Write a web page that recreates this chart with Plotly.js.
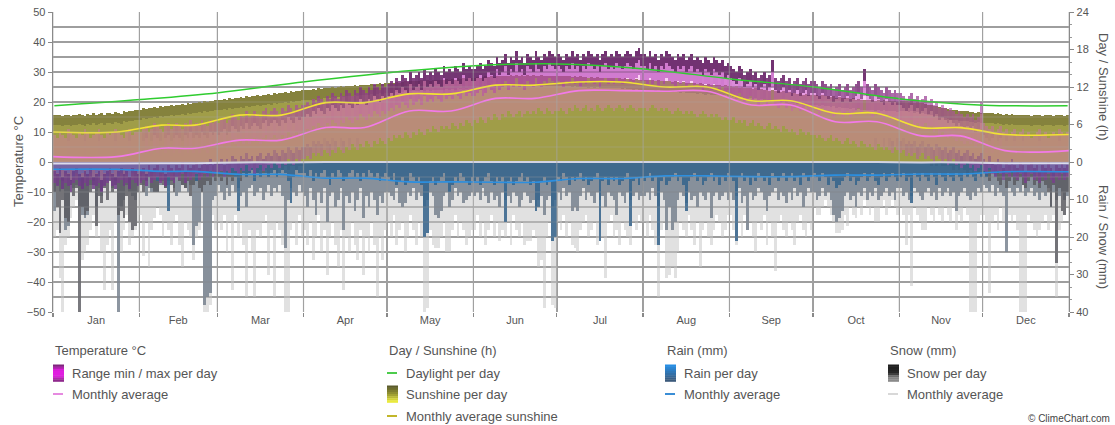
<!DOCTYPE html>
<html><head><meta charset="utf-8">
<script src="https://cdn.plot.ly/plotly-3.0.1.min.js"></script>
<style>html,body{margin:0;padding:0;background:#fff;}#chart{width:1115px;height:425px;}</style>
</head><body><div id="chart"></div>
<script>
const months = ['Jan','Feb','Mar','Apr','May','Jun','Jul','Aug','Sep','Oct','Nov','Dec'];
const monthDays = [31,28,31,30,31,30,31,31,30,31,30,31];

// Daily sunshine (h) – top of the sunshine bars
const sunshine = [
7.6,7.5,7.6,7.4,7.6,7.5,7.3,7.6,7.5,7.7,7.6,7.4,7.7,7.6,7.8,7.5,7.7,7.8,7.6,7.9,7.8,7.7,8.0,7.9,7.7,8.1,8.0,8.2,8.1,8.3,8.4,
8.4,8.6,8.5,8.7,8.6,8.8,8.7,8.9,8.8,9.0,8.9,9.1,9.0,9.2,9.1,9.3,9.2,9.4,9.3,9.5,9.4,9.6,9.5,9.7,9.6,9.8,9.7,9.9,
9.9,10.0,10.1,10.0,10.2,10.1,10.3,10.2,10.4,10.3,10.5,10.4,10.6,10.5,10.7,10.6,10.8,10.7,10.9,10.8,11.0,10.9,11.1,11.0,11.2,11.1,11.3,11.2,11.4,11.3,11.5,
11.5,11.6,11.5,11.7,11.6,11.8,11.7,11.8,11.9,11.8,12.0,11.9,12.0,12.1,12.0,12.2,12.1,12.2,12.3,12.2,12.3,12.4,12.3,12.4,12.5,12.4,12.5,12.6,12.5,12.6,
12.6,12.7,12.6,12.8,12.7,12.8,12.9,12.8,12.9,13.0,12.9,13.0,13.1,13.0,13.1,13.0,13.2,13.1,13.2,13.1,13.2,13.3,13.2,13.3,13.2,13.4,13.3,13.4,13.3,13.4,13.5,
13.5,13.6,13.5,13.6,13.7,13.6,13.7,13.6,13.8,13.7,13.8,13.7,13.8,13.9,13.8,13.9,13.8,13.9,13.8,13.9,13.8,13.9,13.8,13.8,13.9,13.8,13.8,13.7,13.8,13.7,
13.8,13.7,13.8,13.7,13.7,13.6,13.7,13.6,13.7,13.6,13.6,13.5,13.6,13.5,13.6,13.5,13.5,13.4,13.5,13.4,13.5,13.4,13.4,13.3,13.4,13.3,13.3,13.2,13.3,13.2,13.2,
13.2,13.1,13.2,13.1,13.0,13.1,13.0,12.9,13.0,12.9,12.8,12.9,12.8,12.7,12.8,12.7,12.6,12.7,12.6,12.5,12.6,12.5,12.4,12.5,12.4,12.3,12.4,12.3,12.2,12.3,12.1,
12.1,12.0,12.1,11.9,12.0,11.9,11.8,11.9,11.7,11.8,11.6,11.7,11.5,11.6,11.4,11.5,11.3,11.4,11.2,11.3,11.1,11.2,11.0,11.1,10.9,11.0,10.8,10.9,10.7,10.8,
10.7,10.8,10.6,10.7,10.5,10.6,10.4,10.5,10.3,10.4,10.2,10.3,10.2,10.1,10.2,10.0,10.1,10.0,9.9,10.0,9.9,10.0,9.8,9.9,9.8,9.9,9.7,9.8,9.7,9.8,9.6,
9.8,9.7,9.8,9.6,9.7,9.5,9.6,9.4,9.5,9.3,9.2,9.1,9.0,8.9,8.8,8.7,8.6,8.5,8.4,8.3,8.3,8.2,8.2,8.1,8.1,8.0,8.0,7.9,8.0,7.9,
7.9,7.8,7.9,7.8,7.7,7.8,7.7,7.6,7.7,7.6,7.7,7.6,7.5,7.6,7.5,7.6,7.5,7.4,7.5,7.6,7.5,7.4,7.5,7.6,7.5,7.4,7.5,7.6,7.5,7.4,7.5
];

// Daily temperature max / min (°C)
const tempMax = [
9,8,10,9,8,11,10,9,8,10,9,11,10,8,9,10,11,9,8,10,9,10,11,10,9,8,10,11,9,10,10,
10,11,12,10,11,13,12,11,10,12,13,11,12,13,12,11,13,12,14,12,13,12,14,13,12,14,13,14,
13,14,15,13,14,16,15,14,16,15,17,15,16,17,16,15,17,18,16,17,18,17,16,18,17,19,18,17,19,18,19,
19,20,19,21,20,22,21,20,22,21,23,22,21,23,22,24,23,22,24,23,25,24,23,25,24,26,25,24,26,25,
26,27,26,28,27,29,28,27,30,28,29,30,28,31,29,30,29,31,30,29,32,30,31,30,32,31,30,33,31,32,31,
31,32,33,31,32,34,33,32,35,33,34,36,33,35,34,37,34,35,33,36,35,34,37,35,34,36,35,37,36,35,
36,35,34,36,35,37,35,36,34,36,35,37,36,35,36,34,36,37,35,36,35,37,36,35,36,37,36,35,37,38,36,
36,35,37,35,36,34,36,35,37,36,35,34,36,35,36,34,35,36,34,35,34,33,35,34,33,35,34,33,34,32,33,
32,31,30,32,31,29,30,31,29,30,28,29,30,28,29,34,28,27,28,29,27,28,26,27,28,26,27,28,26,27,
27,26,25,27,26,25,26,24,25,26,24,25,26,24,25,26,27,25,31,26,25,24,26,25,24,23,25,24,23,24,23,
23,22,21,22,23,21,22,20,21,22,20,21,19,20,18,19,18,17,18,17,16,17,16,15,16,15,16,14,15,20,
13,12,11,12,10,11,12,10,11,9,10,11,9,10,11,9,10,8,9,10,11,9,10,8,9,10,9,11,10,9,10
];
const tempMin = [
-7,-8,-6,-9,-7,-8,-10,-7,-6,-8,-9,-7,-8,-6,-9,-8,-7,-10,-8,-7,-6,-8,-9,-7,-6,-8,-7,-9,-6,-7,-8,
-7,-6,-8,-5,-7,-6,-5,-7,-6,-8,-5,-6,-7,-5,-6,-4,-7,-5,-6,-5,-4,-6,-5,-4,-5,-3,-5,-4,
-4,-3,-5,-3,-4,-2,-3,-4,-2,-3,-1,-3,-2,-4,-2,-1,-3,-2,-1,-2,0,-1,-2,0,-1,1,0,-1,1,0,1,
1,2,1,3,2,3,2,4,3,2,4,3,5,4,3,5,4,6,5,4,6,5,7,6,5,7,6,8,7,6,
8,7,9,8,9,8,10,9,8,10,9,11,10,9,11,10,12,11,10,12,11,12,11,13,12,11,13,12,14,13,12,
14,13,15,14,13,15,14,16,15,14,16,15,17,16,15,16,17,15,16,17,16,17,16,18,17,16,18,17,16,17,
17,18,17,16,18,17,19,18,17,18,19,17,18,17,19,18,17,18,19,18,17,18,19,18,17,18,19,18,17,18,18,
18,17,18,19,18,17,18,17,18,17,16,17,18,17,16,17,16,17,16,15,16,17,16,15,16,15,16,15,14,15,14,
14,15,13,14,13,14,12,13,14,12,13,12,11,12,13,11,12,11,10,12,11,10,11,10,9,11,10,9,10,9,
9,8,9,8,7,8,9,7,8,7,6,7,8,6,7,6,5,7,6,5,6,5,4,6,5,4,5,4,3,5,4,
3,4,2,3,2,3,1,2,3,1,2,1,0,2,1,0,1,-1,0,1,-1,0,-2,-1,0,-2,-1,-3,-2,-1,
-3,-4,-2,-4,-5,-3,-4,-6,-4,-5,-3,-5,-6,-4,-5,-7,-5,-4,-6,-5,-7,-5,-6,-4,-6,-7,-5,-6,-4,-6,-5
];

// Daily rain (mm): dense core, higher values, extremes
const rainCore = [
2,3,4,2,3,3,2,4,3,5,3,2,4,3,2,3,4,2,3,5,2,3,2,4,3,2,3,4,3,2,3,
2,3,2,4,3,3,5,2,3,4,13,3,2,4,3,2,3,4,2,3,5,3,2,3,4,3,2,3,
3,2,4,3,2,3,4,13,2,3,4,3,2,5,3,4,2,3,4,3,2,4,3,2,3,5,11,4,2,3,3,
3,4,2,5,3,4,3,2,4,6,3,4,2,3,5,4,3,2,4,3,5,3,4,2,3,4,3,5,4,3,
4,5,3,6,5,4,6,5,3,4,5,4,6,20,19,5,4,6,5,4,3,5,8,6,4,5,3,4,5,6,4,
5,4,6,5,4,3,5,6,4,5,4,16,5,4,6,5,4,3,5,4,6,5,13,12,5,4,6,5,21,20,
4,5,3,4,6,4,5,4,3,5,4,6,5,4,3,21,5,4,6,4,5,4,6,5,4,3,17,5,4,6,4,
5,4,3,5,4,22,5,4,6,5,4,3,5,4,6,13,5,4,3,5,4,6,5,4,3,5,4,6,4,5,3,
4,5,21,4,3,5,4,6,4,5,3,4,5,4,6,3,4,5,4,3,5,4,3,5,4,6,3,4,5,4,
3,4,5,3,4,6,4,5,7,6,5,4,3,5,4,6,5,4,3,5,4,3,5,6,4,3,5,4,3,4,5,
4,3,5,4,11,3,4,5,3,4,5,3,4,6,3,4,5,3,4,5,3,4,5,3,4,3,4,5,3,4,
3,4,2,3,4,3,2,4,3,2,3,4,2,3,4,3,2,3,4,2,3,4,3,2,3,4,3,2,3,4,3
];
const rainHigh = [
13,6,8,5,18,17,5,7,6,12,14,15,14,6,5,12,7,9,6,5,4,7,5,40,12,10,6,8,9,10,6,
5,6,9,7,8,8,8,6,5,7,6,5,7,9,8,6,7,8,6,22,17,16,8,38,36,35,10,9,
6,8,10,7,9,6,8,7,9,8,12,7,6,9,8,7,10,8,6,9,7,8,6,9,23,10,7,8,9,6,8,
9,12,7,10,14,8,11,7,16,9,8,12,10,7,18,9,11,8,13,10,7,15,9,12,8,10,14,9,11,8,
8,9,10,7,11,12,11,8,9,7,10,8,9,12,10,8,9,14,15,13,9,8,12,10,7,9,8,11,10,9,8,
9,8,10,7,9,11,8,10,9,12,8,10,9,11,8,9,12,10,8,9,11,10,12,10,9,14,10,9,12,10,
8,10,7,9,8,13,12,13,9,7,10,8,9,11,8,10,9,12,8,9,10,14,8,9,11,8,10,9,8,10,9,
9,8,10,7,9,12,8,10,18,12,18,16,10,8,9,11,8,10,9,12,8,9,10,8,15,9,8,10,9,8,10,
8,10,9,7,11,9,18,8,10,9,7,8,10,13,9,8,7,10,8,9,11,8,10,7,9,8,12,9,7,8,
8,10,9,7,9,8,10,14,16,15,13,9,8,10,9,12,8,9,7,10,8,9,7,10,9,8,7,9,8,10,7,
7,9,8,10,9,7,8,9,10,8,7,9,8,10,7,9,8,7,9,8,13,9,8,7,9,10,8,9,7,8,
6,7,8,6,9,7,8,9,24,7,8,9,7,8,6,9,8,7,9,8,10,8,9,7,12,8,10,9,8,10,9
];
const rainExtreme = [
20,18,31,40,22,20,15,12,10,16,26,24,22,18,14,20,16,24,34,22,18,34,16,28,24,18,14,22,20,18,16,
14,25,16,28,18,15,12,14,20,16,18,22,16,14,22,28,16,18,20,26,20,18,16,40,40,38,14,18,
16,18,14,24,16,34,14,20,16,22,36,18,24,36,18,20,16,14,30,18,36,16,18,22,40,40,18,16,22,14,20,
18,22,16,26,20,14,24,18,30,20,16,22,28,18,34,20,24,16,22,26,18,30,20,24,16,22,36,20,26,18,
16,20,14,22,18,16,24,20,14,18,22,16,20,40,39,18,22,23,23,20,16,24,24,18,14,20,16,18,22,20,18,
18,14,20,16,22,18,14,20,16,21,18,20,16,22,14,18,20,16,22,21,21,18,20,28,26,39,20,16,38,39,
16,18,14,20,16,22,23,24,18,16,14,20,18,16,22,18,20,31,16,14,20,18,22,16,18,20,22,16,18,14,16,
16,20,14,18,22,36,18,16,31,30,28,31,24,16,18,20,14,18,22,16,28,18,16,20,22,18,14,16,20,18,14,
14,18,22,16,20,14,18,16,20,24,16,18,14,22,16,20,29,16,14,18,20,16,18,22,16,14,18,20,16,18,
12,14,14,12,10,12,14,16,19,19,18,14,17,12,14,15,12,14,10,12,14,12,16,16,12,10,14,12,10,12,14,
12,14,22,14,33,12,14,16,18,18,12,14,16,12,14,16,12,14,16,12,18,14,16,12,14,40,40,40,16,14,
14,16,35,16,14,18,12,16,20,14,16,14,18,40,40,40,14,16,18,20,18,16,14,18,16,14,36,18,16,14,12
];
// Daily snow (mm)
const snow = [
8,12,19,10,15,16,6,9,7,40,12,14,13,8,6,17,9,11,7,10,5,8,6,14,13,15,9,16,18,17,8,
6,8,5,4,7,8,8,5,6,7,5,6,8,4,5,6,7,5,9,6,5,7,8,6,5,6,4,5,
4,5,3,6,4,5,3,4,5,3,4,3,2,4,3,2,3,2,3,2,2,3,1,2,1,2,1,1,2,1,1,
0,0,0,0,0,0,0,0,0,0,0,0,0,0,0,0,0,0,0,0,0,0,0,0,0,0,0,0,0,0,
0,0,0,0,0,0,0,0,0,0,0,0,0,0,0,0,0,0,0,0,0,0,0,0,0,0,0,0,0,0,0,
0,0,0,0,0,0,0,0,0,0,0,0,0,0,0,0,0,0,0,0,0,0,0,0,0,0,0,0,0,0,
0,0,0,0,0,0,0,0,0,0,0,0,0,0,0,0,0,0,0,0,0,0,0,0,0,0,0,0,0,0,0,
0,0,0,0,0,0,0,0,0,0,0,0,0,0,0,0,0,0,0,0,0,0,0,0,0,0,0,0,0,0,0,
0,0,0,0,0,0,0,0,0,0,0,0,0,0,0,0,0,0,0,0,0,0,0,0,0,0,0,0,0,0,
0,0,0,0,0,0,0,0,0,0,0,0,0,0,0,0,0,0,0,0,0,0,0,0,0,0,0,0,0,0,0,
0,0,0,0,0,0,0,0,0,0,0,1,0,1,0,1,1,0,1,2,1,2,1,2,3,2,3,2,3,2,
3,4,5,3,4,5,6,4,7,5,4,6,5,4,6,7,5,4,6,5,7,5,6,8,12,6,27,7,13,14,8
];

// Monthly averages
const tempMonthlyAvg = [1.8, 4.6, 7.3, 11.5, 17.0, 21.2, 23.8, 23.6, 19.0, 13.4, 8.7, 3.8];
const sunMonthlyAvg  = [4.8, 5.9, 7.5, 9.5, 10.9, 12.3, 12.8, 12.0, 9.8, 7.8, 5.5, 4.4];
const rainMonthlyAvg = [1.95, 2.5, 3.3, 4.3, 5.3, 5.4, 4.4, 3.7, 3.9, 3.5, 3.2, 2.6];
const snowMonthlyAvg = [0.4, 0.3, 0.1, 0, 0, 0, 0, 0, 0, 0, 0.1, 0.3];
// Daylight (h) at the first day of each month, plus 31 Dec
const daylight = [9.0, 10.0, 11.1, 12.85, 14.3, 15.4, 15.7, 14.9, 13.3, 12.0, 10.1, 9.1, 9.0];

// ---------- derived positions ----------
const days = sunshine.map((_, i) => i + 1);
const starts = []; let acc = 0;
monthDays.forEach(n => { starts.push(acc + 1); acc += n; });
const bounds = starts.map(s => s - 0.5).concat([acc + 0.5]);
const mids = starts.map((s, i) => s - 0.5 + monthDays[i] / 2);
const daylightX = starts.concat([acc]);

function monthlyLine(vals) {
  const x = [], y = [];
  vals.forEach((v, i) => {
    x.push(i === 0 ? bounds[0] : bounds[i] + 8); y.push(v);
    x.push(i === 11 ? bounds[12] : bounds[i + 1] - 8); y.push(v);
  });
  return { x, y };
}

const bar = (o) => Object.assign({ type: 'bar', x: days, hoverinfo: 'skip', showlegend: false, width: 1 }, o);

const traces = [
  // sunshine (base axis y)
  bar({ y: sunshine, yaxis: 'y', marker: { color: 'rgb(160,157,72)' } }),
  bar({ base: sunshine.map(v => v - 1.6), y: sunshine.map(() => 1.6), yaxis: 'y', marker: { color: 'rgba(92,90,46,0.4)' } }),
  // rain & snow (y2)
  bar({ y: rainExtreme, yaxis: 'y2', marker: { color: 'rgba(200,200,200,0.55)' } }),
  bar({ y: rainHigh, yaxis: 'y2', marker: { color: 'rgba(112,124,137,0.8)' } }),
  bar({ y: snow, yaxis: 'y2', marker: { color: 'rgba(88,88,94,0.8)' } }),
  bar({ y: rainCore, yaxis: 'y2', marker: { color: 'rgba(55,100,140,0.88)' } }),
  // temperature (y3)
  bar({ base: tempMin, y: tempMax.map((v, i) => v - tempMin[i]), yaxis: 'y3', marker: { color: 'rgba(240,105,225,0.32)' } }),
  bar({ base: tempMax.map(v => v - 9), y: tempMax.map(() => 9), yaxis: 'y3',
        marker: { color: tempMax, cmin: 10, cmax: 34, showscale: false,
          colorscale: [[0, 'rgba(230,110,220,0)'], [0.5, 'rgba(215,90,205,0.28)'], [1, 'rgba(175,55,175,0.55)']] } }),
  bar({ base: tempMax.map(v => v - 4), y: tempMax.map(() => 4), yaxis: 'y3',
        marker: { color: tempMax, cmin: 10, cmax: 30, showscale: false,
          colorscale: [[0, 'rgba(100,35,100,0)'], [0.5, 'rgba(100,35,100,0.3)'], [1, 'rgba(90,33,90,0.8)']] } }),
  bar({ base: tempMin, y: tempMin.map(() => 4), yaxis: 'y3',
        marker: { color: tempMin, cmin: -9, cmax: 5, showscale: false,
          colorscale: [[0, 'rgba(95,50,125,0.75)'], [0.6, 'rgba(120,60,140,0.3)'], [1, 'rgba(120,60,140,0)']] } }),
];
const tl = monthlyLine(tempMonthlyAvg);
traces.push({ type: 'scatter', mode: 'lines', x: tl.x, y: tl.y, yaxis: 'y3', line: { color: '#f27ae8', width: 1.6, shape: 'spline', smoothing: 1 }, hoverinfo: 'skip', showlegend: false });
traces.push({ type: 'scatter', mode: 'lines', x: daylightX, y: daylight, yaxis: 'y4', line: { color: '#2fcc2f', width: 1.5, shape: 'spline', smoothing: 1 }, hoverinfo: 'skip', showlegend: false });
const sl = monthlyLine(sunMonthlyAvg);
traces.push({ type: 'scatter', mode: 'lines', x: sl.x, y: sl.y, yaxis: 'y4', line: { color: '#f3e233', width: 1.6, shape: 'spline', smoothing: 1 }, hoverinfo: 'skip', showlegend: false });
const sn = monthlyLine(snowMonthlyAvg);
traces.push({ type: 'scatter', mode: 'lines', x: sn.x, y: sn.y, yaxis: 'y5', line: { color: '#dcdcee', width: 2, shape: 'spline', smoothing: 1 }, hoverinfo: 'skip', showlegend: false });
const rl = monthlyLine(rainMonthlyAvg);
traces.push({ type: 'scatter', mode: 'lines', x: rl.x, y: rl.y, yaxis: 'y5', line: { color: '#2b8fe0', width: 1.6, shape: 'spline', smoothing: 1 }, hoverinfo: 'skip', showlegend: false });

// ---------- legend (manual) ----------
const L = 53, PW = 1016, T = 12, PH = 300;
const px = v => (v - L) / PW;
const py = v => (T + PH - v) / PH;
const shapes = [], annotations = [];
// faint grid drawn over the bars (as in the original)
bounds.forEach(b => shapes.push({ type: 'line', layer: 'above', xref: 'x', yref: 'paper', x0: b, x1: b, y0: 0, y1: 1,
  line: { color: 'rgba(165,165,165,0.55)', width: 1.3 } }));
for (let t = -45; t <= 45; t += 5) shapes.push({ type: 'line', layer: 'above', xref: 'paper', yref: 'y3', x0: 0, x1: 1, y0: t, y1: t,
  line: { color: 'rgba(170,170,170,0.35)', width: 1.2 } });

function lerpStops(stops, t) {
  const n = stops.length - 1, k = Math.min(n - 1, Math.floor(t * n)), f = t * n - k;
  const a = stops[k], b = stops[k + 1];
  return 'rgb(' + a.map((c, j) => Math.round(c + (b[j] - c) * f)).join(',') + ')';
}
function swatch(x, yc, stops) {
  const n = 8, top = yc - 8.5, h = 17 / n;
  for (let i = 0; i < n; i++) {
    shapes.push({ type: 'rect', xref: 'paper', yref: 'paper', x0: px(x), x1: px(x + 11),
      y0: py(top + i * h), y1: py(top + (i + 1) * h + 0.3), fillcolor: lerpStops(stops, (i + 0.5) / n), line: { width: 0 } });
  }
}
function lineSw(x, yc, color) {
  shapes.push({ type: 'line', xref: 'paper', yref: 'paper', x0: px(x), x1: px(x + 10), y0: py(yc), y1: py(yc), line: { color, width: 2 } });
}
function txt(x, yc, text, opts) {
  annotations.push(Object.assign({ xref: 'paper', yref: 'paper', x: px(x), y: py(yc), text, showarrow: false,
    xanchor: 'left', yanchor: 'middle', font: { size: 13, color: '#555' } }, opts || {}));
}
const rows = [351, 373, 394, 416];
const cols = [53, 387, 665, 888];
txt(cols[0], rows[0], 'Temperature °C');
swatch(cols[0], rows[1], [[104, 38, 102], [224, 30, 224], [224, 30, 224], [124, 42, 120]]);
txt(cols[0] + 17, rows[1], 'Range min / max per day');
lineSw(cols[0], rows[2], '#e68ae0'); txt(cols[0] + 17, rows[2], 'Monthly average');

txt(cols[1], rows[0], 'Day / Sunshine (h)');
lineSw(cols[1], rows[1], '#4ccc4c'); txt(cols[1] + 17, rows[1], 'Daylight per day');
swatch(cols[1], rows[2], [[82, 82, 42], [150, 150, 50], [246, 246, 60]]);
txt(cols[1] + 17, rows[2], 'Sunshine per day');
lineSw(cols[1], rows[3], '#c2b62a'); txt(cols[1] + 17, rows[3], 'Monthly average sunshine');

txt(cols[2], rows[0], 'Rain (mm)');
swatch(cols[2], rows[1], [[38, 146, 236], [60, 86, 115]]);
txt(cols[2] + 17, rows[1], 'Rain per day');
lineSw(cols[2], rows[2], '#3a8ed6'); txt(cols[2] + 17, rows[2], 'Monthly average');

txt(cols[3], rows[0], 'Snow (mm)');
swatch(cols[3], rows[1], [[30, 30, 30], [34, 34, 34], [40, 40, 40], [130, 130, 130], [140, 140, 140]]);
txt(cols[3] + 17, rows[1], 'Snow per day');
lineSw(cols[3], rows[2], '#d8d8d8'); txt(cols[3] + 17, rows[2], 'Monthly average');

annotations.push({ xref: 'paper', yref: 'paper', x: px(1112), y: py(418), text: '© ClimeChart.com', showarrow: false,
  xanchor: 'right', yanchor: 'middle', font: { size: 10, color: '#444' } });
// axis titles
annotations.push({ xref: 'paper', yref: 'paper', x: px(18), y: py(162), text: 'Temperature °C', showarrow: false,
  textangle: -90, xanchor: 'center', yanchor: 'middle', font: { size: 13, color: '#555' } });
annotations.push({ xref: 'paper', yref: 'paper', x: px(1104), y: py(87), text: 'Day / Sunshine (h)', showarrow: false,
  textangle: 90, xanchor: 'center', yanchor: 'middle', font: { size: 13, color: '#555' } });
annotations.push({ xref: 'paper', yref: 'paper', x: px(1104), y: py(237), text: 'Rain / Snow (mm)', showarrow: false,
  textangle: 90, xanchor: 'center', yanchor: 'middle', font: { size: 13, color: '#555' } });

const gridC = '#9c9c9c';
const layout = {
  width: 1115, height: 425,
  margin: { l: 53, r: 46, t: 12, b: 113, pad: 0 },
  paper_bgcolor: '#fff', plot_bgcolor: '#fff',
  font: { family: 'Liberation Sans, Arial, sans-serif', size: 11, color: '#555' },
  barmode: 'overlay', bargap: 0, showlegend: false,
  xaxis: { range: [0.5, 365.5], tickmode: 'array', tickvals: mids, ticktext: months, ticks: '', showgrid: false,
    zeroline: false, showline: false, tickfont: { size: 11, color: '#555' },
    minor: { tickmode: 'array', tickvals: bounds, showgrid: true, gridcolor: gridC, gridwidth: 1.4,
      ticks: 'outside', ticklen: 4, tickcolor: '#888', tickwidth: 1.3 } },
  yaxis: { range: [-24, 24], side: 'right', tickmode: 'array', tickvals: [0, 6, 12, 18, 24], ticks: 'outside', ticklen: 4,
    tickcolor: '#888', showgrid: false, zeroline: false, showline: true, linecolor: '#8a8a8a', linewidth: 1.4,
    tickfont: { size: 11, color: '#555' },
    minor: { tickmode: 'linear', tick0: 0, dtick: 2, ticks: 'outside', ticklen: 2, tickcolor: '#999', showgrid: false } },
  yaxis2: { overlaying: 'y', side: 'right', range: [40, -40], tickmode: 'array', tickvals: [10, 20, 30, 40], ticks: 'outside',
    ticklen: 4, tickcolor: '#888', showgrid: false, zeroline: false, showline: false, tickfont: { size: 11, color: '#555' } },
  yaxis3: { overlaying: 'y', side: 'left', range: [-50, 50], tickmode: 'array',
    tickvals: [-50, -40, -30, -20, -10, 0, 10, 20, 30, 40, 50], ticks: 'outside', ticklen: 4, tickcolor: '#888',
    showgrid: true, gridcolor: gridC, gridwidth: 1.4, zeroline: false, showline: true, linecolor: '#8a8a8a', linewidth: 1.4,
    tickfont: { size: 11, color: '#555' },
    minor: { tickmode: 'linear', tick0: 0, dtick: 5, showgrid: true, gridcolor: gridC, gridwidth: 1.4 } },
  yaxis4: { overlaying: 'y', range: [-24, 24], visible: false },
  yaxis5: { overlaying: 'y', range: [40, -40], visible: false },
  shapes, annotations
};
Plotly.newPlot('chart', traces, layout, { displayModeBar: false, staticPlot: true });
</script>
</body></html>
